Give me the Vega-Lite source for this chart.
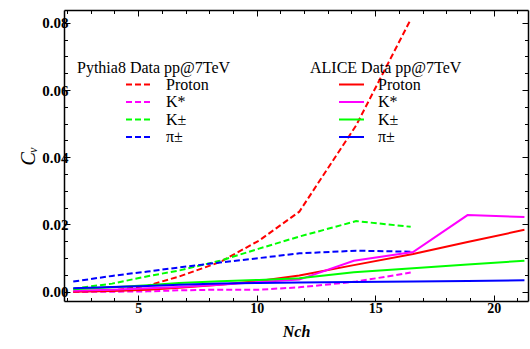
{
  "$schema": "https://vega.github.io/schema/vega-lite/v6.json",
  "autosize": {"type": "none"},
  "width": 464,
  "height": 291,
  "padding": {"left": 64, "top": 10, "right": 2, "bottom": 48},
  "background": "white",
  "config": {
    "view": {"stroke": null},
    "font": "Liberation Serif",
    "axis": {
      "labelFont": "Liberation Serif",
      "labelFontWeight": "bold",
      "labelFontSize": 14,
      "labelColor": "black",
      "labelOpacity": 1,
      "tickColor": "black",
      "domainColor": "black",
      "domainWidth": 1.5,
      "grid": false,
      "titleColor": "black",
      "titleFont": "Liberation Serif"
    },
    "legend": {
      "orient": "none",
      "titleFont": "Liberation Serif",
      "titleFontSize": 16,
      "titleFontWeight": "normal",
      "titleColor": "black",
      "labelFont": "Times New Roman, Liberation Serif, serif",
      "labelFontSize": 16,
      "labelColor": "black",
      "symbolType": "stroke",
      "symbolSize": 625,
      "symbolStrokeWidth": 2,
      "clipHeight": 13,
      "rowPadding": 0.5,
      "titlePadding": 2,
      "padding": 0
    }
  },
  "datasets": {
    "pythia": [
      {"sp": "Proton", "n": 2.26, "cv": 0.0},
      {"sp": "Proton", "n": 3.9, "cv": 0.0003},
      {"sp": "Proton", "n": 5.4, "cv": 0.0018},
      {"sp": "Proton", "n": 6.72, "cv": 0.0045},
      {"sp": "Proton", "n": 8.45, "cv": 0.0088},
      {"sp": "Proton", "n": 10.1, "cv": 0.0152},
      {"sp": "Proton", "n": 11.8, "cv": 0.0238},
      {"sp": "Proton", "n": 14.2, "cv": 0.0495},
      {"sp": "Proton", "n": 16.5, "cv": 0.081},
      {"sp": "K*", "n": 2.26, "cv": -0.0001},
      {"sp": "K*", "n": 3.9, "cv": 0.0},
      {"sp": "K*", "n": 5.4, "cv": 0.0001},
      {"sp": "K*", "n": 6.72, "cv": 0.0004},
      {"sp": "K*", "n": 8.45, "cv": 0.0006},
      {"sp": "K*", "n": 10.1, "cv": 0.0006},
      {"sp": "K*", "n": 11.8, "cv": 0.0013},
      {"sp": "K*", "n": 14.2, "cv": 0.003},
      {"sp": "K*", "n": 16.5, "cv": 0.0057},
      {"sp": "K±", "n": 2.26, "cv": 0.0009},
      {"sp": "K±", "n": 3.9, "cv": 0.0024},
      {"sp": "K±", "n": 5.4, "cv": 0.0046},
      {"sp": "K±", "n": 6.72, "cv": 0.0063},
      {"sp": "K±", "n": 8.45, "cv": 0.0092},
      {"sp": "K±", "n": 10.1, "cv": 0.0128},
      {"sp": "K±", "n": 11.8, "cv": 0.0164},
      {"sp": "K±", "n": 14.2, "cv": 0.021},
      {"sp": "K±", "n": 16.5, "cv": 0.0193},
      {"sp": "π±", "n": 2.26, "cv": 0.003},
      {"sp": "π±", "n": 3.9, "cv": 0.0047},
      {"sp": "π±", "n": 5.4, "cv": 0.006},
      {"sp": "π±", "n": 6.72, "cv": 0.0072},
      {"sp": "π±", "n": 8.45, "cv": 0.0087},
      {"sp": "π±", "n": 10.1, "cv": 0.01},
      {"sp": "π±", "n": 11.8, "cv": 0.0114},
      {"sp": "π±", "n": 14.2, "cv": 0.0122},
      {"sp": "π±", "n": 16.5, "cv": 0.0119}
    ],
    "alice": [
      {"sp": "Proton", "n": 2.26, "cv": 0.0},
      {"sp": "Proton", "n": 3.9, "cv": 0.0002},
      {"sp": "Proton", "n": 5.4, "cv": 0.0006},
      {"sp": "Proton", "n": 6.72, "cv": 0.0012},
      {"sp": "Proton", "n": 8.45, "cv": 0.0021},
      {"sp": "Proton", "n": 10.1, "cv": 0.0032},
      {"sp": "Proton", "n": 11.8, "cv": 0.0048},
      {"sp": "Proton", "n": 14.1, "cv": 0.0079},
      {"sp": "Proton", "n": 16.6, "cv": 0.0112},
      {"sp": "Proton", "n": 18.9, "cv": 0.0148},
      {"sp": "Proton", "n": 21.3, "cv": 0.0184},
      {"sp": "K*", "n": 2.26, "cv": 0.0003},
      {"sp": "K*", "n": 3.9, "cv": 0.0006},
      {"sp": "K*", "n": 5.4, "cv": 0.001},
      {"sp": "K*", "n": 6.72, "cv": 0.0014},
      {"sp": "K*", "n": 8.45, "cv": 0.0021},
      {"sp": "K*", "n": 10.1, "cv": 0.0029},
      {"sp": "K*", "n": 11.8, "cv": 0.0036},
      {"sp": "K*", "n": 14.1, "cv": 0.0092},
      {"sp": "K*", "n": 16.6, "cv": 0.0118},
      {"sp": "K*", "n": 18.9, "cv": 0.0228},
      {"sp": "K*", "n": 21.3, "cv": 0.0222},
      {"sp": "K±", "n": 2.26, "cv": 0.0007},
      {"sp": "K±", "n": 3.9, "cv": 0.0013},
      {"sp": "K±", "n": 5.4, "cv": 0.0019},
      {"sp": "K±", "n": 6.72, "cv": 0.0026},
      {"sp": "K±", "n": 8.45, "cv": 0.0031},
      {"sp": "K±", "n": 10.1, "cv": 0.0035},
      {"sp": "K±", "n": 11.8, "cv": 0.004},
      {"sp": "K±", "n": 14.1, "cv": 0.0058},
      {"sp": "K±", "n": 16.6, "cv": 0.007},
      {"sp": "K±", "n": 18.9, "cv": 0.0081},
      {"sp": "K±", "n": 21.3, "cv": 0.0092},
      {"sp": "π±", "n": 2.26, "cv": 0.001},
      {"sp": "π±", "n": 3.9, "cv": 0.0014},
      {"sp": "π±", "n": 5.4, "cv": 0.0017},
      {"sp": "π±", "n": 6.72, "cv": 0.0021},
      {"sp": "π±", "n": 8.45, "cv": 0.0024},
      {"sp": "π±", "n": 10.1, "cv": 0.0026},
      {"sp": "π±", "n": 11.8, "cv": 0.0027},
      {"sp": "π±", "n": 14.1, "cv": 0.0029},
      {"sp": "π±", "n": 16.6, "cv": 0.003},
      {"sp": "π±", "n": 18.9, "cv": 0.0032},
      {"sp": "π±", "n": 21.3, "cv": 0.0034}
    ]
  },
  "layer": [
    {
      "data": {"name": "pythia"},
      "mark": {"type": "line", "strokeWidth": 2, "strokeDash": [6, 3], "clip": true},
      "encoding": {
        "x": {
          "field": "n", "type": "quantitative",
          "scale": {"domain": [1.87, 21.45], "nice": false, "zero": false},
          "axis": {
            "orient": "bottom",
            "values": [2,3,4,5,6,7,8,9,10,11,12,13,14,15,16,17,18,19,20,21],
            "labelExpr": "datum.value % 5 === 0 ? datum.label : ''",
            "tickSize": {"condition": {"test": "datum.value % 5 === 0", "value": -6}, "value": -3.5},
            "labelFlush": false, "labelOverlap": false,
            "labelPadding": 6,
            "title": "Nch",
            "titleFontStyle": "italic", "titleFontWeight": "bold", "titleFontSize": 16,
            "titlePadding": 6
          }
        },
        "y": {
          "field": "cv", "type": "quantitative",
          "scale": {"domain": [-0.00277, 0.0838], "nice": false, "zero": false},
          "axis": {
            "orient": "left",
            "values": [0,0.005,0.01,0.015,0.02,0.025,0.03,0.035,0.04,0.045,0.05,0.055,0.06,0.065,0.07,0.075,0.08],
            "labelExpr": "abs(datum.value/0.02 - round(datum.value/0.02)) < 0.000001 ? format(datum.value, '.2f') : ''",
            "tickSize": {"condition": {"test": "abs(datum.value/0.02 - round(datum.value/0.02)) < 0.000001", "value": -6}, "value": -3.5},
            "labelFlush": false, "labelOverlap": false,
            "labelFontSize": 15,
            "labelPadding": 2,
            "title": "Cᵥ",
            "titleFontStyle": "italic", "titleFontWeight": "normal", "titleFontSize": 20,
            "titlePadding": 3
          }
        },
        "color": {
          "field": "sp", "type": "nominal",
          "scale": {"domain": ["Proton", "K*", "K±", "π±"], "range": ["#ff0000", "#ff00ff", "#00ff00", "#0000ff"]},
          "legend": {
            "title": "Pythia8 Data pp@7TeV",
            "legendX": 13, "legendY": 50,
            "symbolDash": [6, 3],
            "symbolOffset": 48,
            "labelOffset": 14
          }
        }
      }
    },
    {
      "data": {"name": "alice"},
      "mark": {"type": "line", "strokeWidth": 2, "clip": true},
      "encoding": {
        "x": {
          "field": "n", "type": "quantitative",
          "scale": {"domain": [1.87, 21.45], "nice": false, "zero": false},
          "axis": {
            "orient": "top",
            "values": [2,3,4,5,6,7,8,9,10,11,12,13,14,15,16,17,18,19,20,21],
            "labels": false,
            "tickSize": {"condition": {"test": "datum.value % 5 === 0", "value": -6}, "value": -3.5},
            "title": null
          }
        },
        "y": {
          "field": "cv", "type": "quantitative",
          "scale": {"domain": [-0.00277, 0.0838], "nice": false, "zero": false},
          "axis": {
            "orient": "right",
            "values": [0,0.005,0.01,0.015,0.02,0.025,0.03,0.035,0.04,0.045,0.05,0.055,0.06,0.065,0.07,0.075,0.08],
            "labels": false,
            "tickSize": {"condition": {"test": "abs(datum.value/0.02 - round(datum.value/0.02)) < 0.000001", "value": -6}, "value": -3.5},
            "title": null
          }
        },
        "color": {
          "field": "sp", "type": "nominal",
          "scale": {"domain": ["Proton", "K*", "K±", "π±"], "range": ["#ff0000", "#ff00ff", "#00ff00", "#0000ff"]},
          "legend": {
            "title": "ALICE Data pp@7TeV",
            "legendX": 246, "legendY": 50,
            "symbolOffset": 28,
            "labelOffset": 13
          }
        }
      }
    }
  ],
  "resolve": {
    "scale": {"color": "independent"},
    "axis": {"x": "independent", "y": "independent"},
    "legend": {"color": "independent"}
  }
}
